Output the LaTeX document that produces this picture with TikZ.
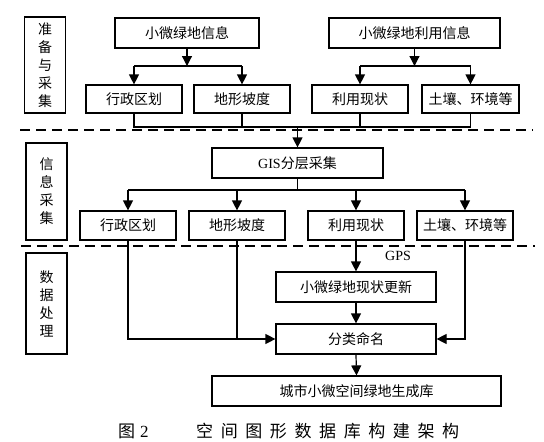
\documentclass[tikz,border=0pt]{standalone}
\usepackage{fontspec}
\setmainfont{Liberation Serif}
\newfontfamily\cjk{Noto Sans CJK SC}
\usetikzlibrary{arrows.meta}
\newcommand{\capgap}{\hspace{7.6pt}}
\begin{document}
\begin{tikzpicture}[x=1pt,y=-1pt,
  box/.style={draw,line width=1.2pt,inner sep=0pt,minimum height=30pt,font=\cjk\fontsize{14}{17}\selectfont},
  lab/.style={draw,line width=1.2pt,inner sep=0pt,minimum width=41pt,align=center,font=\cjk\fontsize{14}{18}\selectfont},
  conn/.style={line width=1.2pt},
  arr/.style={line width=1.2pt,-{Triangle[length=10pt,width=10pt]}},
  sep/.style={line width=1.1pt,dash pattern=on 10pt off 6pt}]
\useasboundingbox (0,0) rectangle (544,442);
\fill[white] (0,0) rectangle (544,442);
% left labels
\node[lab,minimum height=96pt] (L1) at (45,65) {准\\备\\与\\采\\集};
\node[lab,minimum height=97pt] (L2) at (46.5,191.5) {信\\息\\采\\集};
\node[lab,minimum height=101pt] (L3) at (46.5,303.5) {数\\据\\处\\理};
% row A
\node[box,minimum width=144pt] (a1) at (187,33) {小微绿地信息};
\node[box,minimum width=171pt] (a2) at (414.5,33) {小微绿地利用信息};
% row B
\node[box,minimum width=96pt,minimum height=28pt] (b1) at (134,99) {行政区划};
\node[box,minimum width=96pt,minimum height=28pt] (b2) at (242,99) {地形坡度};
\node[box,minimum width=96pt,minimum height=28pt] (b3) at (360,99) {利用现状};
\node[box,minimum width=97pt,minimum height=28pt] (b4) at (470.5,99) {土壤、环境等};
% GIS
\node[box,minimum width=171pt] (g) at (297.5,163) {\rmfamily GIS{\cjk 分层采集}};
% row C
\node[box,minimum width=96pt,minimum height=29pt] (c1) at (128,225.5) {行政区划};
\node[box,minimum width=96pt,minimum height=29pt] (c2) at (237,225.5) {地形坡度};
\node[box,minimum width=96pt,minimum height=29pt] (c3) at (356,225.5) {利用现状};
\node[box,minimum width=96pt,minimum height=29pt] (c4) at (465,225.5) {土壤、环境等};
% row D
\node[box,minimum width=160pt] (d1) at (356,287) {小微绿地现状更新};
\node[box,minimum width=160pt] (d2) at (356,339) {分类命名};
\node[box,minimum width=289pt] (d3) at (356.5,391) {城市小微空间绿地生成库};
\node[font=\fontsize{14}{16}\selectfont] (gps) at (398,256) {GPS};
% junction coordinates
\coordinate (ja1) at (187,66);
\coordinate (ja2) at (414.5,66);
\coordinate (jb) at (297.5,127);
\coordinate (jg) at (297.5,190);
% A -> B
\draw[arr] (a1.south) -- (ja1);
\draw[conn] (b1.north |- ja1) -- (b2.north |- ja1);
\draw[arr] (b1.north |- ja1) -- (b1.north);
\draw[arr] (b2.north |- ja1) -- (b2.north);
\draw[arr] (a2.south) -- (ja2);
\draw[conn] (b3.north |- ja2) -- (b4.north |- ja2);
\draw[arr] (b3.north |- ja2) -- (b3.north);
\draw[arr] (b4.north |- ja2) -- (b4.north);
% B -> GIS
\draw[conn] (b1.south) -- (b1.south |- jb) -- (b4.south |- jb) -- (b4.south);
\draw[conn] (b2.south) -- (b2.south |- jb);
\draw[conn] (b3.south) -- (b3.south |- jb);
\draw[arr] (jb) -- (g.north);
% GIS -> C
\draw[conn] (g.south) -- (jg);
\draw[conn] (c1.north |- jg) -- (c4.north |- jg);
\draw[arr] (c1.north |- jg) -- (c1.north);
\draw[arr] (c2.north |- jg) -- (c2.north);
\draw[arr] (c3.north |- jg) -- (c3.north);
\draw[arr] (c4.north |- jg) -- (c4.north);
% C -> D
\draw[arr] (c3.south) -- (d1.north);
\draw[arr] (d1.south) -- (d2.north);
\draw[arr] (c1.south) -- (c1.south |- d2.west) -- (d2.west);
\draw[conn] (c2.south) -- (c2.south |- d2.west);
\draw[arr] (c4.south) -- (c4.south |- d2.east) -- (d2.east);
\draw[arr] (d2.south) -- (d3.north);
% separators
\coordinate (s1a) at (20,130); \coordinate (s1b) at (533,130);
\coordinate (s2a) at (21,246); \coordinate (s2b) at (535,246);
\draw[sep] (s1a) -- (s1b);
\draw[sep] (s2a) -- (s2b);
% caption
\node[anchor=west,inner sep=0pt,font=\fontsize{17}{20}\selectfont] (cap1) at (118,431) {{\cjk 图}\hspace{5pt}2};
\node[anchor=west,inner sep=0pt,font=\cjk\fontsize{17}{20}\selectfont] (cap2) at (196,431) {空\capgap 间\capgap 图\capgap 形\capgap 数\capgap 据\capgap 库\capgap 构\capgap 建\capgap 架\capgap 构};
\end{tikzpicture}
\end{document}
